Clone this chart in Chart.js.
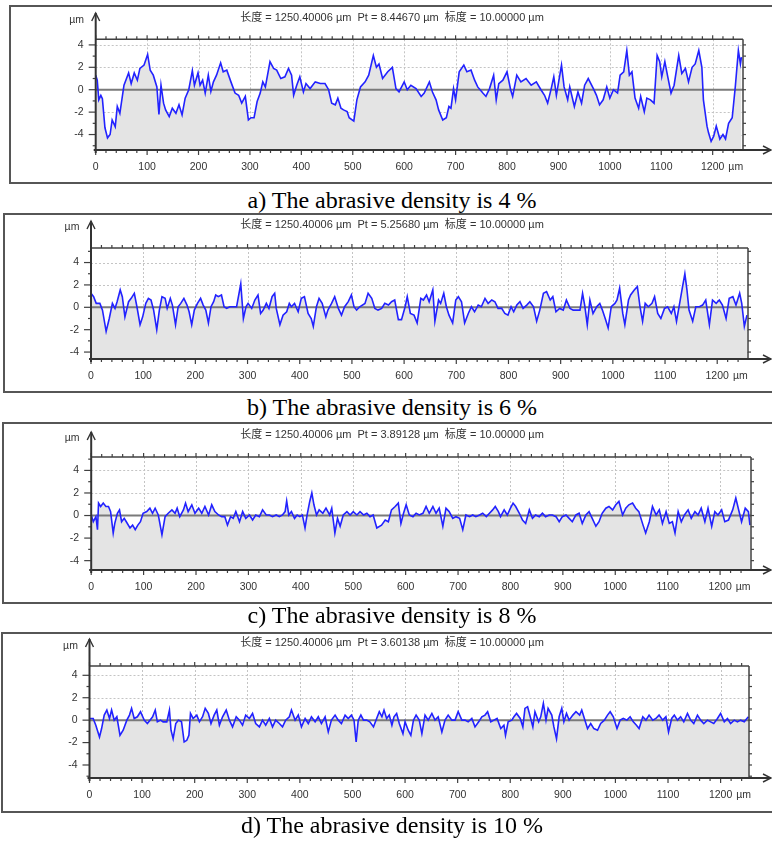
<!DOCTYPE html>
<html>
<head>
<meta charset="utf-8">
<script src="https://cdn.jsdelivr.net/npm/chart.js@4.4.1/dist/chart.umd.min.js"></script>
<style>
  html, body { margin: 0; padding: 0; background: #fff; }
  body { position: relative; width: 772px; height: 841px; overflow: hidden; }
  .frame { position: absolute; border: 2px solid #565656; box-sizing: border-box; }
  canvas { position: absolute; left: 0; }
  .caption { position: absolute; left: 0; width: 784px; text-align: center; white-space: nowrap;
             font-family: 'Liberation Serif', 'Times New Roman', serif; font-size: 24px; line-height: 24px; color: #000; }
</style>
</head>
<body>
<script>
// tick labels
const xTicks = [0, 100, 200, 300, 400, 500, 600, 700, 800, 900, 1000, 1100, 1200];
const yTicks = [-4, -2, 0, 2, 4];
const captions = ['a) The abrasive density is 4 %', 'b) The abrasive density is 6 %',
                  'c) The abrasive density is 8 %', 'd) The abrasive density is 10 %'];
const ptValues = ['8.44670', '5.25680', '3.89128', '3.60138'];

// a) 4 % : position (µm) and height (µm)
const distA = [0, 3, 6, 10, 13, 18, 23, 28, 32, 38, 42, 47, 55, 64, 69, 75, 81, 86, 94, 101,
  106, 112, 119, 123, 127, 132, 136, 143, 149, 156, 162, 168, 174, 181, 188, 192, 199, 203, 208, 213,
  219, 224, 229, 235, 243, 248, 255, 263, 271, 278, 284, 291, 297, 302, 308, 314, 320, 325, 330, 339,
  346, 352, 360, 368, 375, 381, 385, 391, 397, 404, 409, 417, 427, 437, 446, 453, 459, 466, 471, 477,
  482, 489, 493, 502, 508, 515, 524, 531, 540, 546, 551, 558, 568, 577, 584, 590, 600, 606, 613, 623,
  633, 639, 649, 655, 662, 667, 675, 682, 687, 691, 696, 700, 707, 716, 722, 730, 737, 743, 753, 759,
  766, 774, 779, 784, 792, 800, 807, 811, 819, 827, 837, 847, 857, 866, 873, 879, 886, 891, 896, 906,
  911, 918, 922, 931, 938, 945, 951, 958, 968, 974, 980, 987, 994, 1000, 1007, 1015, 1020, 1027, 1033, 1038,
  1043, 1049, 1056, 1060, 1067, 1072, 1079, 1086, 1092, 1097, 1101, 1107, 1112, 1119, 1125, 1134, 1140, 1147, 1153, 1160,
  1166, 1173, 1179, 1182, 1189, 1192, 1197, 1202, 1207, 1214, 1220, 1225, 1231, 1238, 1244, 1250, 1254, 1256];
const hA = [1.3, 0.85, -0.9, -0.5, -0.8, -3.4, -4.3, -4.0, -2.7, -3.3, -1.5, -2.1, 0.4, 1.5, 0.55, 1.5, 0.85, 1.9, 2.2, 3.15,
  1.75, 1.3, 0.25, -2.2, 0.4, -1.2, -1.8, -2.4, -1.65, -2.1, -1.35, -2.25, -0.75, 0, 1.7, 0.4, 1.5, 0.4, 0.85, -0.3,
  1.3, -0.15, 0.7, 1.3, 2.4, 1.6, 1.75, 0.7, -0.3, -0.5, -1.2, -0.6, -2.7, -2.5, -2.5, -1.05, -0.3, 0.7, 0.25, 2.5,
  1.9, 1.75, 1.0, 1.15, 1.9, 1.3, -0.5, 0.4, 1.15, -0.2, 0.55, 0.1, 0.7, 0.55, 0.55, 0, -1.2, -1.35, -0.75, -1.65,
  -1.8, -1.95, -2.5, -2.8, -0.9, 0.25, 0.7, 1.3, 3.05, 2.0, 2.3, 1.0, 1.6, 2.0, 0.1, -0.2, 0.7, 0, 0.4, 0.1,
  -0.6, -0.3, 0.7, -0.2, -0.9, -1.8, -2.7, -2.5, -1.5, -1.65, 0.1, -0.9, 1.6, 2.2, 1.6, 1.75, 0.85, 0.25, -0.3, -0.6,
  0.1, 1.3, -0.9, 0.55, 0.85, 1.6, 0, -0.6, 1.3, 0.7, 1.0, 0.4, 0.7, 0, -0.5, -1.2, 0.1, 1.15, -0.5, 2.2,
  0.25, -0.9, 0.25, -1.5, -0.2, -1.2, 0.4, 1.0, 0.1, -0.5, -1.35, -0.9, 0.25, -0.75, 0, -0.3, 1.3, 1.6, 3.5, 1.3,
  1.6, -0.75, -1.65, -0.6, -1.95, -0.75, -0.9, -1.2, 3.05, 2.5, 1.15, 2.5, 1.3, -0.3, 0.4, 3.05, 1.45, 1.9, 0.7, 2.0,
  2.3, 3.5, 2.0, -0.9, -3.25, -3.85, -4.6, -4.15, -3.25, -4.4, -4.0, -4.4, -3.0, -2.5, 0.25, 3.5, 2.3, 2.9];

// b) 6 %
const distB = [0, 5, 10, 17, 22, 29, 35, 41, 46, 50, 56, 60, 65, 72, 77, 83, 88, 94, 99, 105,
  110, 115, 120, 126, 131, 136, 142, 146, 152, 156, 162, 167, 172, 178, 184, 188, 193, 198, 204, 210,
  215, 220, 225, 230, 235, 239, 244, 250, 255, 260, 266, 273, 279, 287, 292, 297, 301, 308, 314, 320,
  325, 330, 336, 341, 347, 352, 355, 362, 368, 375, 380, 384, 390, 397, 403, 409, 416, 422, 426, 432,
  437, 443, 450, 454, 461, 467, 474, 480, 486, 493, 499, 504, 509, 515, 525, 531, 538, 544, 550, 557,
  563, 570, 576, 582, 589, 595, 602, 606, 612, 619, 625, 632, 637, 643, 648, 655, 659, 666, 670, 676,
  681, 686, 693, 699, 704, 710, 716, 723, 729, 735, 742, 748, 755, 761, 768, 774, 780, 787, 793, 799,
  805, 810, 816, 822, 828, 835, 841, 848, 854, 860, 867, 873, 880, 885, 891, 898, 905, 911, 918, 924,
  930, 937, 942, 946, 951, 956, 962, 969, 975, 980, 986, 991, 997, 1004, 1008, 1013, 1019, 1023, 1030, 1034,
  1041, 1047, 1052, 1057, 1062, 1068, 1075, 1080, 1086, 1092, 1099, 1105, 1112, 1117, 1122, 1128, 1133, 1138, 1142, 1146,
  1153, 1159, 1166, 1172, 1178, 1185, 1191, 1198, 1204, 1210, 1217, 1223, 1230, 1236, 1243, 1247, 1252, 1257];
const hB = [1.25, 0.95, 0.35, 0.35, -0.25, -2.15, -1.0, 0.35, -0.1, 0.5, 1.55, 0.95, -0.85, 0.5, 0.8, 1.25, 0.05, -1.55, -0.85, 0.35,
  0.8, 0.65, -0.25, -2.0, -0.25, 0.95, 0.8, -0.1, 0.8, 0.2, -1.55, 0.05, 0.35, 0.8, 0.2, -0.4, -1.55, -0.25, 0.35, 0.8,
  0.2, -0.25, -1.4, 0.05, 0.5, 1.1, 0.95, 1.1, 0.05, -0.1, 0.05, 0.05, 0.05, 2.1, -1.0, 0.05, 0.35, -0.1, 0.65, 1.1,
  -0.55, -0.25, 0.35, -0.1, 0.95, 1.25, -0.1, -1.55, -0.7, -0.4, 0.35, 0.05, 0.35, -0.4, 0.8, 0.95, -0.55, -1.0, -1.7, 0.05,
  0.8, 0.35, -0.85, -0.25, 0.35, 0.95, -0.1, -0.7, 0.05, 0.5, 1.1, 0.05, -0.25, 0.05, 0.35, 1.25, 0.8, -0.1, -0.25, -0.1,
  0.35, 0.2, 0.5, 0.65, -1.1, -1.1, 0.05, 0.95, -0.55, -0.7, -1.4, 0.8, 0.65, 1.1, 0.5, 1.55, -1.25, 0.65, 0.35, 1.25,
  0.05, -0.7, -1.4, 0.65, 0.95, 0.5, -1.4, -0.55, 0.05, -0.4, 0.2, 0.05, 0.8, 0.35, 0.65, 0.5, -0.1, -0.1, -0.55, -0.7,
  0.05, -0.4, 0.2, 0.5, -0.1, 0.2, 0.5, 0.05, -1.25, -0.25, 1.25, 1.4, 0.65, 0.95, -0.4, -0.1, -0.25, 0.65, -0.1, -0.25,
  -0.25, -0.25, 1.25, 0.2, -1.55, 0.65, -0.55, 0.05, 0.35, -0.25, -1.1, -1.85, 0.05, 0.35, 0.65, 1.7, -0.55, -1.55, 0.65, 1.1,
  1.55, 1.85, 0.05, -1.25, 0.35, 0.05, 0.35, 0.95, -0.55, -1.0, -0.1, 0.05, -0.55, 0.05, -1.25, 0.35, 1.7, 3.0, 1.55, -0.25,
  -1.25, 0.05, 0.05, 0.2, 0.65, -1.55, 0.65, 0.35, 0.65, 0.2, -1.0, 0.8, 0.95, 0.2, 1.25, 0.35, -1.7, -0.7];

// c) 8 %
const distC = [0, 4, 9, 12, 14, 18, 23, 28, 33, 37, 42, 45, 50, 54, 58, 63, 67, 74, 79, 84,
  89, 94, 99, 106, 112, 117, 122, 128, 135, 141, 147, 154, 160, 164, 169, 176, 180, 185, 192, 198,
  205, 211, 217, 224, 230, 236, 243, 249, 255, 260, 266, 271, 276, 283, 289, 295, 302, 308, 314, 321,
  327, 334, 340, 346, 353, 359, 365, 370, 373, 377, 382, 388, 393, 398, 403, 408, 412, 417, 421, 425,
  430, 435, 442, 448, 455, 459, 465, 470, 475, 481, 488, 494, 500, 507, 513, 520, 526, 532, 538, 545,
  554, 561, 567, 573, 580, 586, 591, 596, 601, 607, 614, 620, 626, 633, 639, 645, 652, 658, 664, 671,
  677, 683, 690, 696, 703, 709, 715, 722, 728, 734, 741, 747, 754, 760, 766, 771, 777, 781, 788, 794,
  800, 805, 810, 817, 823, 829, 836, 842, 848, 855, 861, 867, 874, 880, 887, 893, 899, 906, 912, 918,
  925, 931, 937, 944, 950, 956, 963, 969, 975, 982, 988, 995, 1001, 1007, 1014, 1020, 1026, 1033, 1039, 1045,
  1053, 1058, 1065, 1071, 1078, 1084, 1090, 1097, 1103, 1109, 1114, 1120, 1126, 1132, 1139, 1145, 1152, 1158, 1164, 1171,
  1177, 1184, 1190, 1196, 1203, 1209, 1216, 1224, 1230, 1237, 1241, 1248, 1254, 1257];
const hC = [0.05, -0.55, -0.1, -1.25, 1.1, 0.8, 1.1, 0.8, 0.8, 0.35, -1.55, -0.7, 0.2, 0.5, -0.55, -0.25, -0.55, -1.1, -0.85, -1.25,
  -0.85, -0.55, 0.2, 0.35, 0.65, 0.2, 0.65, 0.05, -1.7, -0.1, 0.2, 0.5, 0.2, 0.65, -0.1, 0.5, 1.1, 0.35, 0.95, 0.2,
  0.65, 0.2, 0.8, 0.05, 0.95, 0.35, 0.05, -0.1, -0.1, -0.85, -0.1, -0.25, 0.35, -0.55, 0.35, -0.25, 0.05, -0.4, 0.05, -0.1,
  0.5, 0.05, 0.05, -0.1, 0.05, -0.1, 0.05, 0.35, 1.3, 0.05, 0.35, -0.25, 0.05, -0.1, 0.05, -1.1, 0.05, 1.25, 2.0, 0.95,
  0.05, 0.5, 0.2, 0.65, 0.05, 0.65, -1.55, -0.25, -0.95, 0.05, 0.35, 0.05, 0.35, 0.05, 0.35, 0.05, 0.2, -0.1, 0.05, -1.1,
  -0.85, -0.4, -0.55, 0.5, 0.8, 1.1, -0.7, 0.2, 0.95, 0.05, -0.1, 0.2, 0.05, 0.2, 0.8, 0.2, 0.8, 0.2, 0.65, -0.95,
  0.65, 0.35, -0.25, -0.1, -0.25, -1.25, 0.05, -0.1, 0.05, -0.1, 0.05, 0.2, -0.1, 0.2, 0.5, 0.8, 0.35, -0.1, 0.5, 0.05,
  0.65, 1.1, 0.8, 0.2, -0.4, -0.7, 0.5, -0.25, 0.05, -0.1, 0.2, -0.1, 0.05, 0.05, -0.1, -0.55, -0.1, 0.05, -0.25, -0.55,
  0.05, 0.2, -0.7, 0.05, 0.35, -0.25, -0.95, -0.55, 0.2, 0.65, 0.8, 0.5, 0.95, 1.25, 0.05, 0.65, 0.95, 1.1, 0.65, 0.35,
  -0.85, -1.55, -0.55, 0.8, 0.05, 0.5, -0.7, 0.35, -0.7, -0.55, -1.55, 0.35, -0.55, 0.05, 0.5, -0.25, 0.35, 0.05, 0.65, -0.55,
  0.65, -0.95, 0.35, 0.05, 0.5, -0.55, -0.4, 0.5, 1.55, 0.2, -0.55, 0.65, 0.35, -0.85];

// d) 10 %
const distD = [0, 7, 12, 19, 23, 28, 33, 38, 42, 47, 52, 58, 64, 71, 76, 80, 85, 91, 97, 104,
  110, 115, 120, 125, 129, 135, 140, 147, 152, 155, 159, 164, 169, 175, 180, 185, 189, 192, 197, 204,
  209, 215, 220, 226, 231, 237, 242, 247, 253, 260, 266, 272, 279, 285, 291, 297, 304, 310, 316, 323,
  329, 335, 342, 348, 354, 361, 367, 373, 380, 384, 391, 397, 403, 410, 416, 422, 429, 435, 441, 448,
  454, 460, 467, 473, 479, 486, 492, 498, 503, 507, 511, 516, 521, 527, 533, 540, 546, 551, 556, 560,
  565, 570, 575, 579, 584, 589, 596, 600, 606, 611, 616, 621, 627, 632, 638, 644, 651, 657, 663, 670,
  676, 682, 689, 695, 701, 708, 714, 720, 727, 733, 740, 746, 752, 757, 763, 769, 775, 782, 788, 791,
  796, 803, 807, 812, 819, 824, 828, 833, 838, 843, 847, 854, 858, 863, 868, 872, 879, 883, 888, 893,
  898, 902, 907, 912, 919, 925, 932, 936, 942, 947, 953, 959, 966, 972, 979, 985, 990, 996, 1003, 1009,
  1015, 1022, 1028, 1034, 1040, 1045, 1052, 1058, 1064, 1071, 1077, 1083, 1090, 1096, 1101, 1107, 1112, 1118, 1124, 1130,
  1137, 1143, 1149, 1156, 1162, 1168, 1175, 1181, 1187, 1194, 1200, 1207, 1213, 1219, 1226, 1232, 1238, 1245, 1250, 1253];
const hD = [0.15, 0.15, -0.45, -1.5, -0.75, 0.45, 0.9, 0.15, 0.9, 0, 0.3, -1.35, -0.9, 0, 0.45, 1.05, 0.15, 0.3, 0.75, 0,
  -0.3, 0, 0.3, 0.9, -0.15, 0, -0.15, -0.15, 0.9, -0.9, -1.65, -0.3, 0, -0.15, -1.95, -1.8, -1.35, 0.6, 0.15, 0.45,
  -0.15, 0.3, 1.05, 0.6, -0.3, 0.45, 0.9, -0.45, 0.3, 0.9, 0, -0.6, 0.3, 0, -0.45, 0.45, 0.15, 0.6, -0.3, -0.6,
  0, -0.45, 0.15, -0.6, 0, -0.3, -0.6, 0, 0.3, 0.9, 0, 0.45, -0.6, 0.15, -0.3, 0.3, -0.15, 0.3, -0.3, 0.3,
  -1.05, 0, 0.45, 0, -0.3, 0.45, 0.15, 0.45, 0, -1.95, 0, 0.45, 0, 0, -0.15, -0.6, 0.15, 0.75, 0.3, 0.9,
  0.15, 0.45, -0.45, 0.3, 0.6, -0.3, -1.2, -0.15, -0.9, -1.35, 0, 0.45, 0, -1.2, 0.45, 0, 0.6, 0, 0.3, -1.05,
  0, 0.45, 0, 0, 0.75, 0, 0, -0.15, 0.15, -0.6, -0.15, 0.3, 0.45, 0.75, -0.15, 0, 0.15, -0.75, -0.45, -1.35,
  -0.15, 0, 0.3, 0.6, 0.15, -0.6, 1.05, 1.2, 0.3, -0.6, 0.75, -0.15, 0.3, 1.5, 0, 1.05, 0.45, -0.6, -1.65, 0.3,
  1.05, -0.15, 0.6, 0, 0.45, 0.75, 0.45, 0.9, 0, -0.75, -0.3, -0.75, -0.9, -0.3, 0, 0.45, 0.75, 0.3, -0.75, 0,
  0.15, 0, 0.3, -0.15, -0.45, -0.75, 0.3, 0, 0.45, 0, 0.15, 0.45, 0, 0.3, -1.05, 0.15, 0.45, 0, 0.3, -0.15,
  0.6, 0, -0.3, 0.45, 0, -0.3, 0, -0.15, -0.3, 0.15, 0.6, -0.15, 0.15, -0.3, 0, -0.15, 0, -0.15, 0.15, 0.3];

// page layout of the four panels (px) and axis ranges
const panels = [
  { dist: distA, h: hA, top: 5,   height: 179, frameLeft: 9, left: 95.7, right: 743, plotTop: 34.3, plotBottom: 145, yMin: -5.38, yMax: 4.5,  xMax: 1259, arrowY: 8,  titleY: 13, unitY: 15, capTop: 188 },
  { dist: distB, h: hB, top: 213, height: 180, frameLeft: 3, left: 91,   right: 748, plotTop: 35,   plotBottom: 146, yMin: -4.62, yMax: 5.3,  xMax: 1259, arrowY: 8,  titleY: 12, unitY: 14, capTop: 395 },
  { dist: distC, h: hC, top: 422, height: 182, frameLeft: 2, left: 91.2, right: 751, plotTop: 35,   plotBottom: 148, yMin: -4.83, yMax: 5.19, xMax: 1259, arrowY: 10, titleY: 13, unitY: 16, capTop: 603 },
  { dist: distD, h: hD, top: 632, height: 181, frameLeft: 1, left: 89.5, right: 749, plotTop: 34,   plotBottom: 146, yMin: -5.16, yMax: 4.83, xMax: 1254, arrowY: 7,  titleY: 11, unitY: 14, capTop: 813 }
];

const labelFont = { family: "'Liberation Sans', Arial, sans-serif", size: 10.5 };
const Y_AXIS_W = 40, X_AXIS_H = 26, PAGE_W = 772;

function line(ctx, x1, y1, x2, y2) {
  ctx.beginPath(); ctx.moveTo(x1, y1); ctx.lineTo(x2, y2); ctx.stroke();
}

function decoPlugin(p, idx) {
  return {
    id: 'deco',
    beforeDatasetsDraw(chart) {
      const { ctx, chartArea: a, scales: { x, y } } = chart;
      ctx.save();
      ctx.strokeStyle = '#c4c4c4';
      ctx.lineWidth = 1;
      ctx.setLineDash([2, 2]);
      xTicks.forEach(v => {
        if (v === 0) return;
        const px = Math.round(x.getPixelForValue(v)) + 0.5;
        line(ctx, px, a.top, px, a.bottom);
      });
      yTicks.forEach(v => {
        if (v === 0) return;
        const py = Math.round(y.getPixelForValue(v)) + 0.5;
        line(ctx, a.left, py, a.right, py);
      });
      ctx.restore();
    },
    afterDraw(chart) {
      const { ctx, chartArea: a, scales: { x, y } } = chart;
      ctx.save();
      // plot frame (top / right)
      ctx.strokeStyle = '#404040';
      ctx.lineWidth = 1.5;
      line(ctx, a.left, a.top, a.right, a.top);
      line(ctx, a.right, a.top, a.right, a.bottom);

      // minor / major ticks
      ctx.lineWidth = 1.2;
      for (let v = 0; v <= p.xMax; v += 20) {
        const px = x.getPixelForValue(v);
        const major = v % 100 === 0;
        line(ctx, px, a.top, px, a.top - (major ? 4 : 3));
        line(ctx, px, a.bottom, px, a.bottom + (major ? 5 : 3));
      }
      for (let v = Math.ceil(y.min); v <= Math.floor(y.max); v++) {
        const py = y.getPixelForValue(v);
        const major = v % 2 === 0;
        line(ctx, a.left, py, a.left - (major ? 7 : 3), py);
        line(ctx, a.right, py, a.right + 3, py);
      }

      // axes with arrows
      ctx.strokeStyle = '#333';
      ctx.lineWidth = 2;
      line(ctx, a.left, a.bottom + 3, a.left, p.arrowY);
      line(ctx, a.left - 2, a.bottom, PAGE_W - 1, a.bottom);
      ctx.lineWidth = 1.4;
      ctx.beginPath();
      ctx.moveTo(a.left - 4, p.arrowY + 8); ctx.lineTo(a.left, p.arrowY); ctx.lineTo(a.left + 4, p.arrowY + 8);
      ctx.stroke();
      ctx.beginPath();
      ctx.moveTo(PAGE_W - 9, a.bottom - 4); ctx.lineTo(PAGE_W - 1, a.bottom); ctx.lineTo(PAGE_W - 9, a.bottom + 4);
      ctx.stroke();

      // unit labels
      ctx.fillStyle = '#333';
      ctx.font = "10.5px 'Liberation Sans', Arial, sans-serif";
      ctx.textBaseline = 'middle';
      ctx.textAlign = 'center';
      ctx.fillText('µm', a.left - 19, p.unitY);
      const last = xTicks[xTicks.length - 1];
      const w = ctx.measureText(String(last)).width;
      ctx.textAlign = 'left';
      ctx.fillText('µm', x.getPixelForValue(last) + w / 2 + 4, a.bottom + 11 + 6.5);

      // header line
      ctx.font = "11px 'Liberation Sans', 'Noto Sans CJK SC', sans-serif";
      ctx.textAlign = 'center';
      ctx.fillText('长度 = 1250.40006 µm  Pt = ' + ptValues[idx] + ' µm  标度 = 10.00000 µm', 392, p.titleY);
      ctx.restore();
    }
  };
}

panels.forEach((p, idx) => {
  const frame = document.createElement('div');
  frame.className = 'frame';
  Object.assign(frame.style, { left: p.frameLeft + 'px', top: p.top + 'px', width: (820 - p.frameLeft) + 'px', height: p.height + 'px' });
  document.body.appendChild(frame);

  const canvas = document.createElement('canvas');
  canvas.width = PAGE_W;
  canvas.height = p.height;
  canvas.style.top = p.top + 'px';
  document.body.appendChild(canvas);

  const cap = document.createElement('div');
  cap.className = 'caption';
  cap.style.top = p.capTop + 'px';
  cap.textContent = captions[idx];
  document.body.appendChild(cap);

  const pts = p.dist.map((d, i) => ({ x: d, y: p.h[i] }));

  new Chart(canvas.getContext('2d'), {
    type: 'line',
    data: {
      datasets: [
        { data: pts, borderColor: '#2222ff', borderWidth: 1.6, pointRadius: 0, fill: false, tension: 0, order: 1 },
        { data: [{ x: 0, y: 0 }, { x: p.xMax, y: 0 }], borderColor: '#7a7a7a', borderWidth: 2, pointRadius: 0, fill: false, order: 2 },
        { data: pts, borderColor: 'rgba(0,0,0,0)', borderWidth: 0, backgroundColor: '#e4e4e4', pointRadius: 0, fill: 'start', order: 3 }
      ]
    },
    options: {
      responsive: false,
      animation: false,
      devicePixelRatio: 1,
      layout: {
        padding: {
          left: p.left - Y_AXIS_W,
          right: PAGE_W - p.right,
          top: p.plotTop,
          bottom: p.height - p.plotBottom - X_AXIS_H
        }
      },
      plugins: { legend: { display: false }, tooltip: { enabled: false } },
      scales: {
        x: {
          type: 'linear', min: 0, max: p.xMax,
          grid: { display: false, drawTicks: false }, border: { display: false },
          afterBuildTicks: s => { s.ticks = xTicks.map(v => ({ value: v })); },
          afterFit: s => { s.height = X_AXIS_H; },
          ticks: { autoSkip: false, maxRotation: 0, padding: 11, color: '#333', font: labelFont, callback: v => String(v) }
        },
        y: {
          type: 'linear', min: p.yMin, max: p.yMax,
          grid: { display: false, drawTicks: false }, border: { display: false },
          afterBuildTicks: s => { s.ticks = yTicks.map(v => ({ value: v })); },
          afterFit: s => { s.width = Y_AXIS_W; },
          ticks: { padding: 12, color: '#333', font: labelFont, callback: v => String(v) }
        }
      }
    },
    plugins: [decoPlugin(p, idx)]
  });
});
</script>
</body>
</html>
